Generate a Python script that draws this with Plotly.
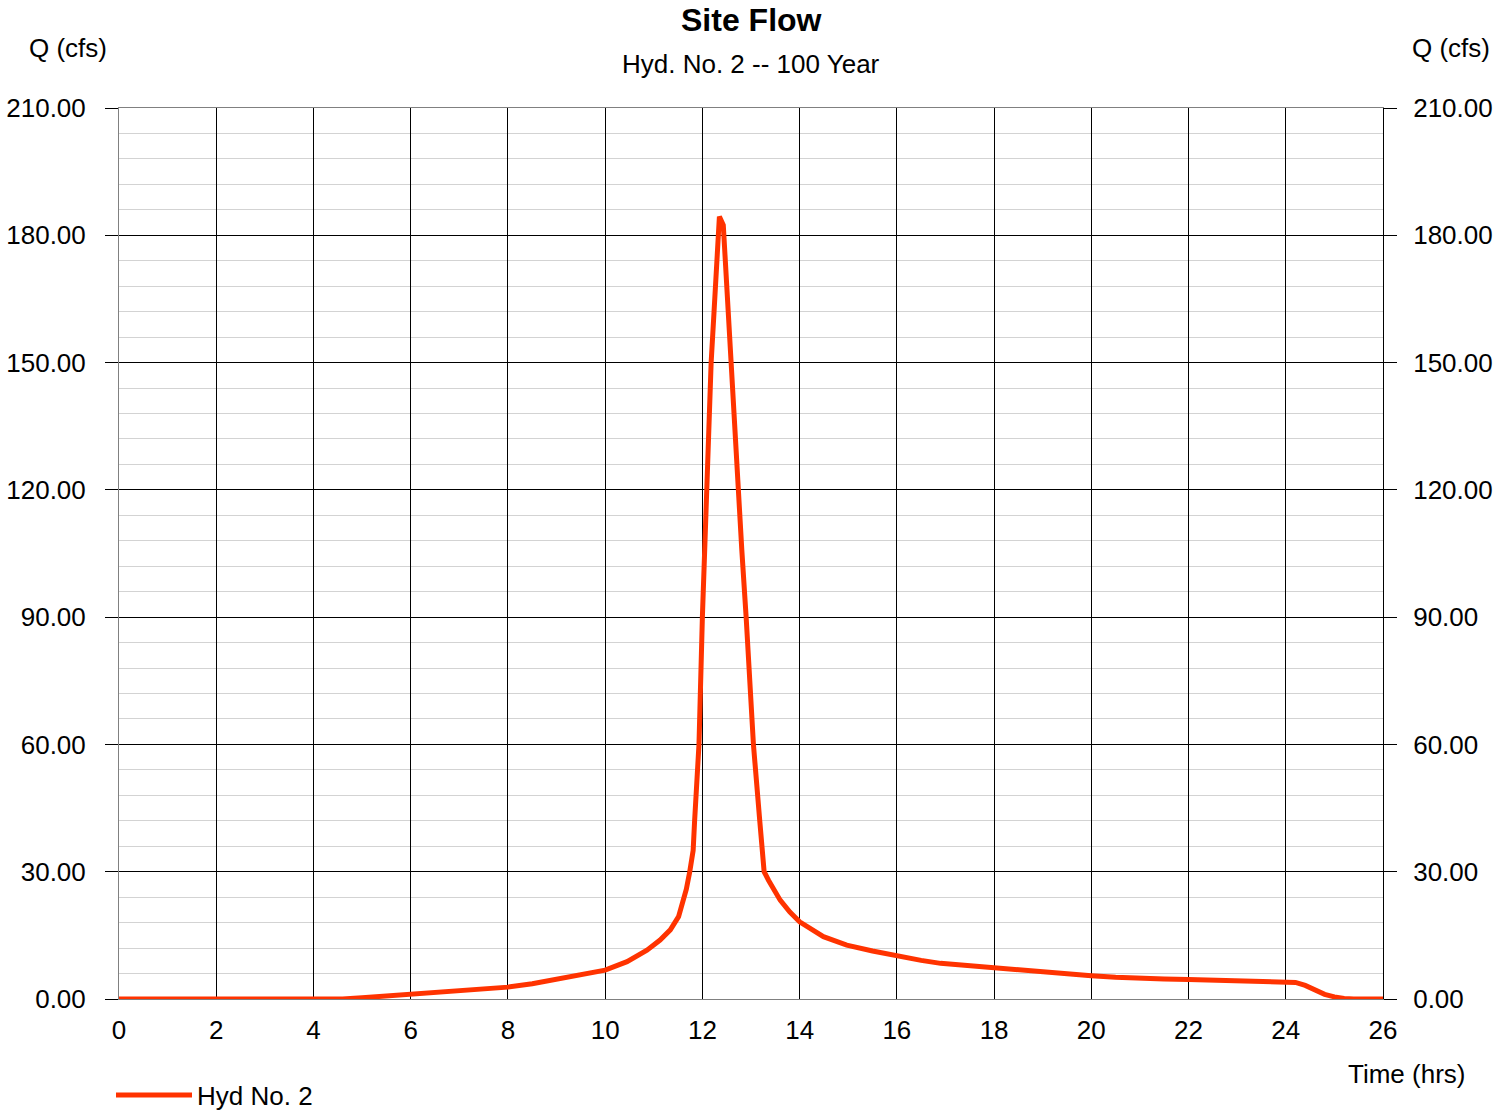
import plotly.graph_objects as go

time_hrs = [0, 4.6, 5.0, 5.5, 6.0, 6.5, 7.0, 7.5, 8.0, 8.5, 9.0, 9.5, 10.0, 10.45, 10.86, 11.13,
            11.34, 11.51, 11.61, 11.67, 11.74, 11.81, 11.84, 11.93, 12.0, 12.08, 12.18, 12.24,
            12.35, 12.43, 12.52, 12.61, 12.72, 12.81, 12.9, 13.05, 13.18, 13.22, 13.27, 13.36,
            13.6, 13.8, 14.0, 14.49, 14.97, 15.5, 16.0, 16.5, 16.9, 17.5, 18.0, 18.5,
            19.0, 19.5, 20.0, 20.5, 21.0, 21.5, 22.0, 22.5, 23.0, 23.5, 24.0, 24.2, 24.4,
            24.6, 24.8, 25.0, 25.2, 25.4, 26.0]
flow_cfs = [0, 0, 0.3, 0.7, 1.2, 1.6, 2.0, 2.4, 2.8, 3.6, 4.7, 5.8, 6.8, 8.8, 11.5, 13.9,
            16.3, 19.4, 23.3, 25.9, 30.0, 35.0, 42.0, 60.0, 90.0, 120.0, 150.0, 162.0,
            184.4, 182.4, 164.0, 146.0, 121.0, 106.0, 90.0, 60.0, 42.0, 35.0, 30.0, 28.0,
            23.3, 20.5, 18.2, 14.7, 12.7, 11.3, 10.1, 9.1, 8.4, 7.8, 7.3, 6.8,
            6.4, 6.0, 5.5, 5.1, 4.8, 4.7, 4.6, 4.5, 4.4, 4.3, 4.2, 3.9, 3.2,
            2.0, 1.1, 0.5, 0.1, 0, 0]

y_ticks = [0, 30, 60, 90, 120, 150, 180, 210]
x_ticks = list(range(0, 27, 2))

FONT = "Liberation Sans, Arial, sans-serif"
RED = "#FF3300"
FS = 26

fig = go.Figure()
fig.add_trace(go.Scatter(x=time_hrs, y=flow_cfs, mode="lines", name="Hyd No. 2",
                         line=dict(color=RED, width=5), showlegend=True))
# invisible trace for right axis
fig.add_trace(go.Scatter(x=[0], y=[0], yaxis="y2", mode="lines", showlegend=False,
                         line=dict(width=0), hoverinfo="skip"))

fig.update_layout(
    width=1494, height=1110,
    margin=dict(l=119, r=111, t=108, b=111),
    plot_bgcolor="white", paper_bgcolor="white",
    font=dict(family=FONT, size=FS, color="black"),
    xaxis=dict(range=[0, 26], tickmode="array", tickvals=x_ticks, ticks="",
               showgrid=True, gridcolor="#000000", gridwidth=1, zeroline=False,
               showline=True, linecolor="#808080", linewidth=1, mirror=True,
               ticklabelstandoff=8, automargin=False),
    yaxis=dict(range=[0, 210], tickmode="array", tickvals=y_ticks, tickformat=".2f",
               ticks="outside", ticklen=13, tickcolor="#000000",
               showgrid=True, gridcolor="#000000", gridwidth=1, zeroline=False,
               showline=True, linecolor="#808080", linewidth=1,
               minor=dict(dtick=6, showgrid=True, gridcolor="#d3d3d3", gridwidth=1),
               ticklabelstandoff=14, automargin=False),
    yaxis2=dict(range=[0, 210], tickmode="array", tickvals=y_ticks, tickformat=".2f",
                overlaying="y", side="right", ticks="outside", ticklen=13,
                tickcolor="#000000", showgrid=False, zeroline=False,
                showline=True, linecolor="#000000", linewidth=1,
                ticklabelstandoff=11, automargin=False),
    legend=dict(x=(118 - 7) / 1494, xref="container", y=1 - 1095 / 1110, yref="container",
                xanchor="left", yanchor="middle", orientation="h",
                font=dict(size=FS), itemwidth=76, bgcolor="rgba(0,0,0,0)"),
    showlegend=True,
)

cx = (751 - 119) / 1264
fig.add_annotation(text="<b>Site Flow</b>", xref="paper", yref="paper",
                   x=cx, y=(999 - 20) / 891, xanchor="center", yanchor="middle",
                   showarrow=False, font=dict(size=32))
fig.add_annotation(text="Hyd. No. 2 -- 100 Year", xref="paper", yref="paper",
                   x=cx, y=(999 - 64) / 891, xanchor="center",
                   yanchor="middle", showarrow=False, font=dict(size=FS))
fig.add_annotation(text="Q (cfs)", xref="paper", yref="paper",
                   x=(27 - 119) / 1264, y=(999 - 48) / 891, xanchor="left",
                   yanchor="middle", showarrow=False, font=dict(size=FS))
fig.add_annotation(text="Q (cfs)", xref="paper", yref="paper",
                   x=(1492 - 119) / 1264, y=(999 - 48) / 891, xanchor="right",
                   yanchor="middle", showarrow=False, font=dict(size=FS))
fig.add_annotation(text="Time (hrs)", xref="paper", yref="paper",
                   x=(1467 - 119) / 1264, y=(999 - 1074) / 891, xanchor="right",
                   yanchor="middle", showarrow=False, font=dict(size=FS))

fig.write_html("out.html")
